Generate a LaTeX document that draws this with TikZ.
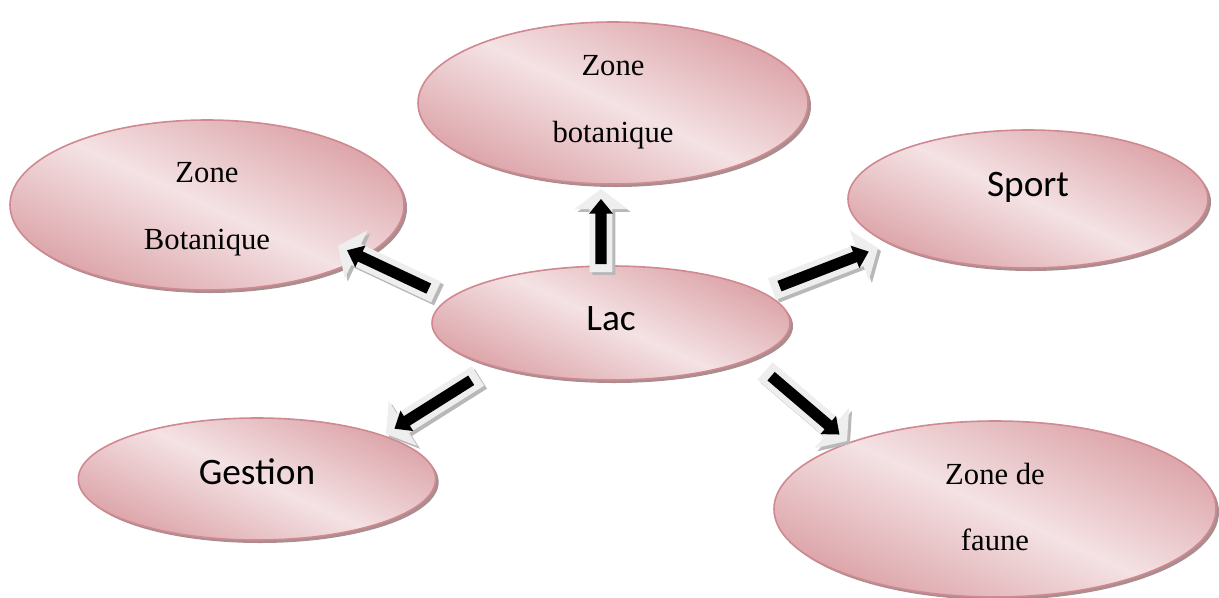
\documentclass[tikz,border=0pt]{standalone}
\usepackage{fontspec}
\setmainfont{Liberation Serif}
\newfontfamily\calib{Carlito}
\usetikzlibrary{calc,shapes.geometric}
\definecolor{pdark}{HTML}{DA9FA4}
\definecolor{plight}{HTML}{F4E2E4}
\definecolor{pborder}{HTML}{D08990}
\definecolor{pshadow}{HTML}{A98D8F}
\definecolor{agray}{HTML}{EEEEEE}
\definecolor{ashadow}{HTML}{B8B8B8}
\tikzset{
  bubble/.style={ellipse, inner sep=0pt,
    path picture={\shade[shading=axis, top color=pdark, bottom color=pdark, middle color=plight, shading angle=-25]
      ([shift={(-5pt,-5pt)}]path picture bounding box.south west) rectangle ([shift={(5pt,5pt)}]path picture bounding box.north east);}},
  bshadow/.style={ellipse, inner sep=0pt, fill=pshadow},
  brim/.style={draw=pborder, line width=1.2pt},
  serifbig/.style={font=\fontsize{23}{50}\selectfont, align=center},
  sansbig/.style={font=\calib\fontsize{28}{34}\selectfont},
}
% polygon of a block arrow: tail, tip, head base, half shaft, half head
\newcommand{\arrowpoly}[5]{($(#1)!#4!90:(#2)$) -- ($(#3)!#4!90:(#2)$) -- ($(#3)!#5!90:(#2)$) -- (#2) -- ($(#3)!#5!-90:(#2)$) -- ($(#3)!#4!-90:(#2)$) -- ($(#1)!#4!-90:(#2)$) -- cycle}
\newcommand{\blockarrow}[3]{%
  \coordinate (#3c) at ($(#2)!15pt!(#1)$);
  \coordinate (#3ti) at ($(#1)!6pt!(#2)$);
  \coordinate (#3hi) at ($(#2)!7.5pt!(#1)$);
  \coordinate (#3ci) at ($(#3hi)!11pt!(#1)$);
  \begin{scope}[transform canvas={shift={(2.2pt,-2.2pt)}}]
    \fill[ashadow] \arrowpoly{#1}{#2}{#3c}{8.6pt}{20pt};
  \end{scope}
  \fill[agray] \arrowpoly{#1}{#2}{#3c}{8.6pt}{20pt};
  \fill[black] \arrowpoly{#3ti}{#3hi}{#3ci}{4.2pt}{9pt};
}
% bubble: name, x, y, width(pt), height(pt)
\newcommand{\bubble}[5]{%
  \node[bshadow, minimum width=#4, minimum height=#5] (#1s) at (#2+3,#3+3) {};
  \node[bubble, minimum width=#4, minimum height=#5] (#1) at (#2,#3) {};
  \draw[brim] (#1.center) ellipse [x radius=0.5*#4, y radius=0.5*#5];
}
\begin{document}
\begin{tikzpicture}[x=0.75pt,y=-0.75pt]
\useasboundingbox (0,0) rectangle (1219,597);
\bubble{zb}{613}{103}{292.5pt}{121.5pt}
\bubble{zB}{207}{205}{295.5pt}{127.5pt}
\bubble{sport}{1028}{199}{270pt}{103.5pt}
\bubble{lac}{611}{323}{268.5pt}{85.5pt}
\bubble{gestion}{257}{479}{268pt}{91.5pt}
\bubble{faune}{995}{509}{331.5pt}{132pt}

\node[serifbig] (tzb) at (613,102) {Zone\\botanique};
\node[serifbig] (tzB) at (207,209) {Zone\\Botanique};
\node[sansbig] (tsport) at (1028,187) {Sport};
\node[sansbig] (tlac) at (611,319) {Lac};
\node[sansbig] (tgestion) at (257,472) {Gestion};
\node[serifbig] (tfaune) at (995,507) {Zone de\\faune};

\coordinate (a1t) at (436,292); \coordinate (a1h) at (338,246);
\coordinate (a2t) at (601,272); \coordinate (a2h) at (601,189);
\coordinate (a3t) at (772,289); \coordinate (a3h) at (878,248);
\coordinate (a4t) at (478,376); \coordinate (a4h) at (386,434);
\coordinate (a5t) at (765,371); \coordinate (a5h) at (847,441);
\blockarrow{a1t}{a1h}{b1}
\blockarrow{a2t}{a2h}{b2}
\blockarrow{a3t}{a3h}{b3}
\blockarrow{a4t}{a4h}{b4}
\blockarrow{a5t}{a5h}{b5}
\end{tikzpicture}
\end{document}
